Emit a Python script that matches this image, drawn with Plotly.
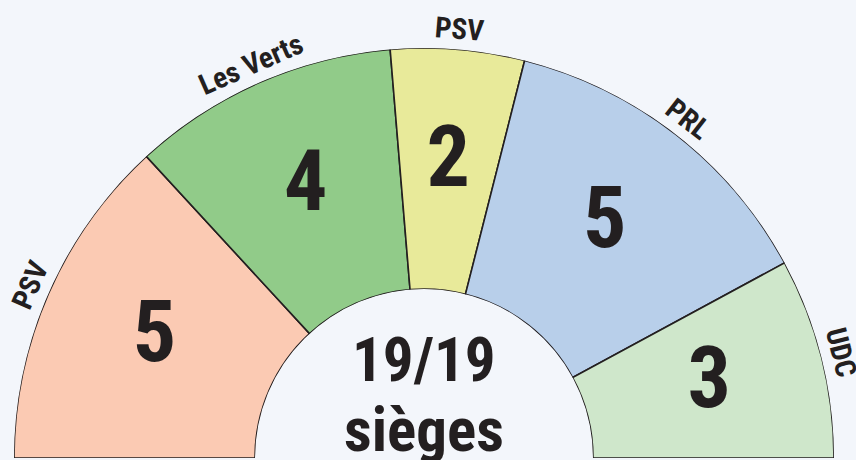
import math
import plotly.graph_objects as go

parties = ["PSV", "Les Verts", "PSV", "PRL", "UDC"]
seats = [5, 4, 2, 5, 3]
colors = ["#FBCAB3", "#91CB89", "#E8EA9A", "#B8CFEA", "#CFE7CB"]
total_label = "19/19"
unit_label = "sièges"

W, H = 856, 460
CX_PX, CY_PX, R_PX = 424, 2, 410   # centre (x from left, y from bottom) and outer radius, px
HOLE = 169 / 410
BG = "#F3F6FB"
INK = "#231F20"
FONT = ("Roboto Condensed, Noto Sans Condensed, Open Sans Condensed, "
        "Liberation Sans Narrow, DejaVu Sans Condensed, sans-serif")

total = sum(seats)
deg_per = 180 / total
centers, widths = [], []
cum = 0
for n in seats:
    centers.append(180 - (cum + n / 2) * deg_per)
    widths.append(n * deg_per)
    cum += n

fig = go.Figure()
fig.add_trace(go.Barpolar(
    r=[1] * len(seats), theta=centers, width=widths,
    marker=dict(color=colors, line=dict(color=INK, width=1.6)),
    hoverinfo="skip", showlegend=False,
))
fig.add_trace(go.Scatterpolar(
    r=[0.52] * len(seats), theta=centers, mode="text",
    text=[str(s) for s in seats],
    textfont=dict(family=FONT, size=86, color=INK, weight="bold"),
    hoverinfo="skip", showlegend=False,
))

annotations = []
for name, th in zip(parties, centers):
    d = 430
    x = (CX_PX + d * math.cos(math.radians(th))) / W
    y = (CY_PX + d * math.sin(math.radians(th))) / H
    annotations.append(dict(
        x=x, y=y, xref="paper", yref="paper", text=name, showarrow=False,
        textangle=90 - th, xanchor="center", yanchor="middle",
        font=dict(family=FONT, size=29, color=INK, weight="bold"),
    ))
annotations.append(dict(
    x=CX_PX / W, y=100 / H, xref="paper", yref="paper", text=total_label,
    showarrow=False, xanchor="center", yanchor="middle",
    font=dict(family=FONT, size=61, color=INK, weight="bold"),
))
annotations.append(dict(
    x=CX_PX / W, y=30 / H, xref="paper", yref="paper", text=unit_label,
    showarrow=False, xanchor="center", yanchor="middle",
    font=dict(family=FONT, size=61, color=INK, weight="bold"),
))

fig.update_layout(
    width=W, height=H,
    margin=dict(l=0, r=0, t=0, b=0),
    paper_bgcolor=BG, plot_bgcolor=BG,
    annotations=annotations,
    polar=dict(
        domain=dict(x=[(CX_PX - R_PX) / W, (CX_PX + R_PX) / W],
                    y=[CY_PX / H, (CY_PX + R_PX) / H]),
        sector=[0, 180], hole=HOLE, bgcolor=BG,
        radialaxis=dict(range=[0, 1], visible=False, showgrid=False),
        angularaxis=dict(visible=False, showgrid=False, rotation=0,
                         direction="counterclockwise"),
        barmode="overlay",
    ),
)
fig.write_html("out.html", config={"displayModeBar": False},
               post_script="document.body.style.margin='0';"
                           "document.body.style.background='" + BG + "';")
